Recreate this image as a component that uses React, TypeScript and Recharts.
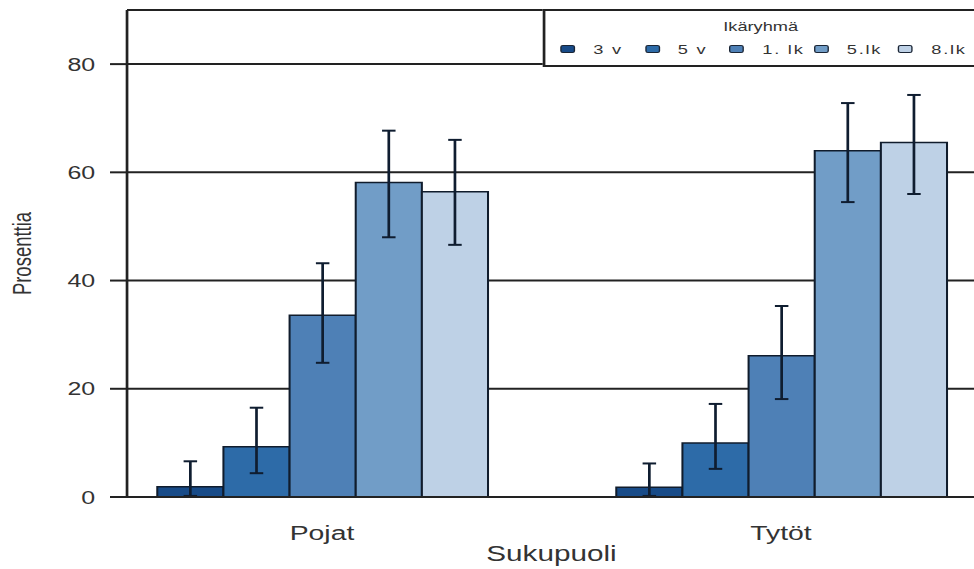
import React from "react";
import { BarChart, Bar, XAxis, YAxis, CartesianGrid, ErrorBar, Legend, ReferenceLine } from "recharts";

const categories = ["Pojat", "Tytöt"];
const groups = ["3 v", "5 v", "1. lk", "5.lk", "8.lk"];
const groupKeys = ["g3v", "g5v", "g1lk", "g5lk", "g8lk"];
const colors = ["#184b88", "#2d6ba8", "#4e80b6", "#719dc7", "#bed1e6"];

const pojatValues = [1.9, 9.3, 33.6, 58.1, 56.4];
const pojatLow = [0.2, 4.4, 24.8, 48.0, 46.6];
const pojatHigh = [6.6, 16.5, 43.2, 67.7, 66.0];

const tytotValues = [1.8, 10.0, 26.1, 64.0, 65.5];
const tytotLow = [0.2, 5.2, 18.1, 54.5, 56.0];
const tytotHigh = [6.2, 17.2, 35.3, 72.8, 74.3];

const yTicks = [0, 20, 40, 60, 80];

const seriesByCategory = [
  { values: pojatValues, low: pojatLow, high: pojatHigh },
  { values: tytotValues, low: tytotLow, high: tytotHigh },
];

const data = categories.map((name, ci) => {
  const row: any = { name };
  const s = seriesByCategory[ci];
  groupKeys.forEach((k, gi) => {
    row[k] = s.values[gi];
    row[k + "_err"] = [s.values[gi] - s.low[gi], s.high[gi] - s.values[gi]];
  });
  return row;
});

const SX = 1.35;
const FONT = "'Liberation Sans', Arial, Helvetica, sans-serif";
const TEXT = "#333";
const LINE = "#222";

const LegendBox = (props: any) => {
  const payload = [...(props.payload || [])].sort(
    (a: any, b: any) => groups.indexOf(a.value) - groups.indexOf(b.value)
  );
  return (
    <div
      style={{
        position: "relative",
        width: 330,
        height: 58,
        border: "2px solid #222",
        boxSizing: "border-box",
        background: "#fff",
        fontFamily: FONT,
        color: TEXT,
      }}
    >
      <div
        style={{
          position: "absolute",
          left: 159.5,
          top: 8,
          transform: "translateX(-50%)",
          fontSize: 13.5,
          whiteSpace: "nowrap",
        }}
      >
        Ikäryhmä
      </div>
      {payload.map((p: any, i: number) => (
        <div key={i} style={{ position: "absolute", left: 11 + i * 62.6, top: 31, height: 14, display: "flex", alignItems: "center" }}>
          <div
            style={{
              width: 11,
              height: 8.5,
              background: p.color,
              border: "1.5px solid #1a2535",
              borderRadius: 2,
              boxSizing: "border-box",
            }}
          />
          <span style={{ marginLeft: 13.5, fontSize: 13.5, letterSpacing: 1.3, whiteSpace: "nowrap" }}>{p.value}</span>
        </div>
      ))}
    </div>
  );
};

const CatTick = (props: any) => {
  const { x, y, payload } = props;
  return (
    <text x={x} y={y + 41} textAnchor="middle" fontSize={21} fill={TEXT} fontFamily={FONT}>
      {payload.value}
    </text>
  );
};

export default function App() {
  return (
    <div style={{ position: "absolute", left: 0, top: 0, width: 974, height: 569, overflow: "hidden", background: "#fff" }}>
      <div style={{ width: 800, height: 569, transform: `scaleX(${SX})`, transformOrigin: "0 0" }}>
        <BarChart
          width={800}
          height={569}
          data={data}
          margin={{ top: 10, right: 0, bottom: 0, left: 0 }}
          barGap={0}
          barSize={49}
        >
          <CartesianGrid vertical={false} stroke={LINE} strokeWidth={2} />
          <ReferenceLine y={90} stroke={LINE} strokeWidth={2} />
          <XAxis
            dataKey="name"
            type="category"
            padding={{ left: -25.6, right: 51.5 }}
            height={72}
            tickLine={false}
            tickSize={0}
            axisLine={{ stroke: LINE, strokeWidth: 2 }}
            tick={<CatTick />}
            interval={0}
            label={() => (
              <text x={408.5} y={561} textAnchor="middle" fontSize={22} fill={TEXT} fontFamily={FONT}>
                Sukupuoli
              </text>
            )}
          />
          <YAxis
            type="number"
            domain={[0, 90]}
            ticks={yTicks}
            width={94.1}
            tickSize={12.6}
            tickMargin={11}
            axisLine={{ stroke: LINE, strokeWidth: 2 }}
            tickLine={{ stroke: LINE, strokeWidth: 2 }}
            tick={{ fontSize: 18.5, fill: TEXT, fontFamily: FONT }}
            allowDataOverflow
            label={() => (
              <text
                x={17}
                y={253.5}
                transform="rotate(-90 17 253.5)"
                textAnchor="middle"
                dominantBaseline="central"
                fontSize={18.5}
                fill={TEXT}
                fontFamily={FONT}
              >
                Prosenttia
              </text>
            )}
          />
          <Legend
            layout="vertical"
            align="center"
            verticalAlign="middle"
            content={<LegendBox />}
            wrapperStyle={{ position: "absolute", left: 402, top: 9, width: 330, height: 58 }}
          />
          {groupKeys.map((k, i) => (
            <Bar key={k} dataKey={k} name={groups[i]} fill={colors[i]} stroke="#101c2c" strokeWidth={1.5} isAnimationActive={false}>
              <ErrorBar dataKey={k + "_err"} width={5} stroke="#0f1d30" strokeWidth={2} direction="y" />
            </Bar>
          ))}
        </BarChart>
      </div>
    </div>
  );
}
